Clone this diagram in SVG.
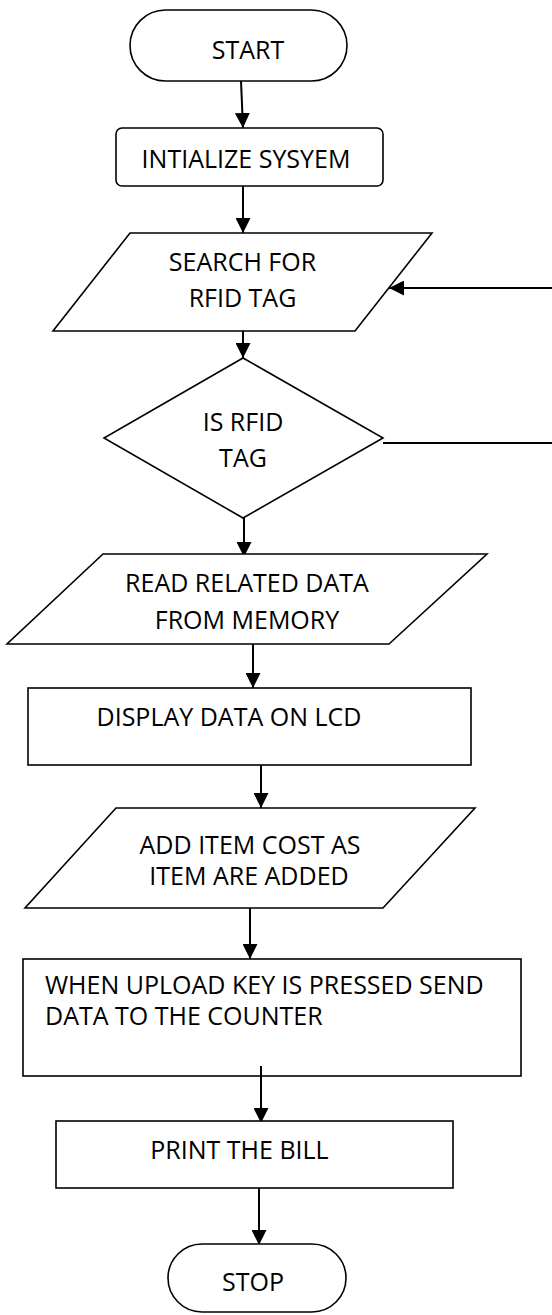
<svg xmlns="http://www.w3.org/2000/svg" width="552" height="1315" viewBox="0 0 552 1315">
<defs>
<style>
.s{fill:#fff;stroke:#000;stroke-width:1.6}
.c{fill:none;stroke:#000;stroke-width:2}
.t{font-family:"Open Sans","Liberation Sans",sans-serif;font-size:25px;fill:#000}
.m{text-anchor:middle}
</style>
<marker id="ah" markerUnits="userSpaceOnUse" markerWidth="15" markerHeight="15" viewBox="0 0 15 15" refX="15" refY="7.5" orient="auto">
<path d="M0,0 L15,7.5 L0,15 z" fill="#000"/>
</marker>
</defs>
<rect width="552" height="1315" fill="#fff"/>
<g id="connectors">
<line class="c" x1="241" y1="81" x2="243" y2="128" marker-end="url(#ah)"/>
<line class="c" x1="243" y1="186" x2="243" y2="233" marker-end="url(#ah)"/>
<line class="c" x1="243" y1="331" x2="243" y2="358" marker-end="url(#ah)"/>
<line class="c" x1="244" y1="515" x2="244" y2="557" marker-end="url(#ah)"/>
<line class="c" x1="253" y1="644" x2="253" y2="688" marker-end="url(#ah)"/>
<line class="c" x1="261" y1="765" x2="261" y2="808" marker-end="url(#ah)"/>
<line class="c" x1="250" y1="906" x2="250" y2="959" marker-end="url(#ah)"/>
<line class="c" x1="261" y1="1066" x2="261" y2="1123" marker-end="url(#ah)"/>
<line class="c" x1="259" y1="1188" x2="259" y2="1245" marker-end="url(#ah)"/>
<line class="c" x1="552" y1="288" x2="389" y2="288" marker-end="url(#ah)"/>
<line class="c" x1="383" y1="443" x2="552" y2="443"/>
</g>
<g id="start">
<rect class="s" x="130" y="10" width="217" height="71" rx="35.5"/>
<text class="t m" x="248" y="59">START</text>
</g>
<g id="init">
<rect class="s" x="116" y="128" width="267" height="58" rx="6"/>
<text class="t m" x="246" y="168">INTIALIZE SYSYEM</text>
</g>
<g id="search">
<polygon class="s" points="130,233 432,233 355,331 53,331"/>
<text class="t m" x="242.5" y="271">SEARCH FOR</text>
<text class="t m" x="242.5" y="307">RFID TAG</text>
</g>
<g id="decision">
<polygon class="s" points="243,358 383,438 243,518 104,438"/>
<text class="t m" x="243" y="431">IS RFID</text>
<text class="t m" x="243" y="467">TAG</text>
</g>
<g id="read">
<polygon class="s" points="103,554 487,554 389,644 7,644"/>
<text class="t m" x="247" y="592">READ RELATED DATA</text>
<text class="t m" x="247" y="629">FROM MEMORY</text>
</g>
<g id="display">
<rect class="s" x="28" y="688" width="443" height="77"/>
<text class="t m" x="229" y="726">DISPLAY DATA ON LCD</text>
</g>
<g id="add">
<polygon class="s" points="116,808 475,808 383,908 25,908"/>
<text class="t m" x="250" y="854">ADD ITEM COST AS</text>
<text class="t m" x="249" y="885">ITEM ARE ADDED</text>
</g>
<g id="upload">
<rect class="s" x="23" y="959" width="498" height="117"/>
<text class="t" x="45" y="994">WHEN UPLOAD KEY IS PRESSED SEND</text>
<text class="t" x="45" y="1025">DATA TO THE COUNTER</text>
</g>
<g id="print">
<rect class="s" x="56" y="1121" width="397" height="67"/>
<text class="t m" x="239.5" y="1159">PRINT THE BILL</text>
</g>
<g id="stop">
<rect class="s" x="168" y="1244" width="178" height="68" rx="34"/>
<text class="t m" x="253" y="1291">STOP</text>
</g>
<g id="connectors-over">
<line class="c" x1="261" y1="1066" x2="261" y2="1076"/>
</g>
</svg>
